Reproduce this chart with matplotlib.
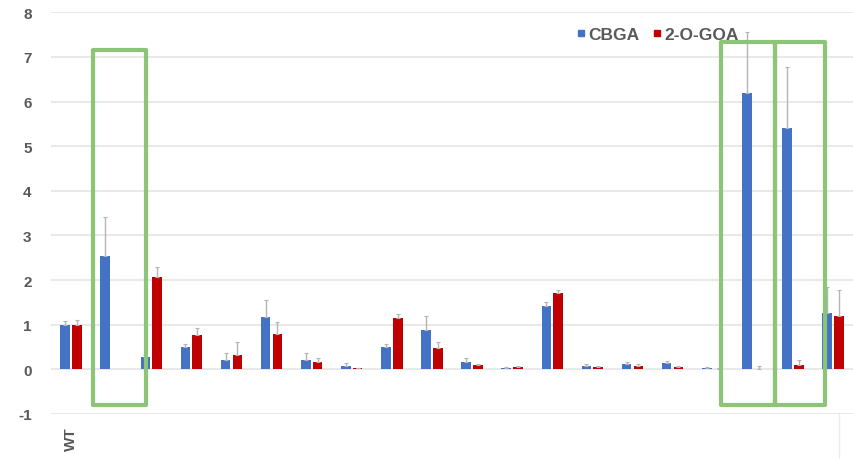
import numpy as np
import matplotlib.pyplot as plt
from matplotlib.patches import Rectangle
from matplotlib.lines import Line2D

plt.rcParams["axes.unicode_minus"] = False

# relative amounts per strain, WT = 1
strains = ["WT"] + [""] * 19
cbga = [1.00, 2.55, 0.28, 0.50, 0.20, 1.17, 0.22, 0.08, 0.50, 0.89,
        0.16, 0.04, 1.41, 0.08, 0.11, 0.14, 0.03, 6.20, 5.40, 1.27]
cbga_err = [0.08, 0.86, 0.05, 0.06, 0.16, 0.39, 0.14, 0.06, 0.06, 0.30,
            0.10, 0.02, 0.11, 0.03, 0.05, 0.04, 0.02, 1.35, 1.38, 0.58]
goa = [1.00, 0.00, 2.07, 0.78, 0.32, 0.79, 0.16, 0.02, 1.15, 0.47,
       0.10, 0.06, 1.70, 0.05, 0.08, 0.05, 0.01, 0.00, 0.09, 1.20]
goa_err = [0.10, 0.00, 0.23, 0.15, 0.30, 0.28, 0.10, 0.02, 0.09, 0.14,
           0.03, 0.02, 0.08, 0.02, 0.03, 0.02, 0.01, 0.07, 0.11, 0.57]

# strains to highlight: (x0, x1, y0, y1) in data units
highlights = [(0.54, 1.86, -0.80, 7.15),
              (16.21, 17.56, -0.80, 7.33),
              (17.56, 18.80, -0.80, 7.33)]

BLUE = "#4472c4"
RED = "#c00000"
GREY = "#595959"

fig = plt.figure(figsize=(8.54, 4.60), dpi=100)
ax = fig.add_axes([51 / 854, 1 - 415 / 460, 802 / 854, 401.7 / 460])

x = np.arange(len(strains))
w = 0.24
off = 0.147
err_kw = dict(ecolor="#b5b5b5", elinewidth=1.0, capsize=1.5, capthick=0.8)
cbga_err = np.array(cbga_err)
goa_err = np.array(goa_err)
ax.bar(x - off, cbga, w, color=BLUE, zorder=3)
ax.bar(x + off, goa, w, color=RED, zorder=3)
# upper error bars only, skipped where there is no spread
for xs, vals, errs in [(x - off, cbga, cbga_err), (x + off, goa, goa_err)]:
    m = errs > 0
    ax.errorbar(xs[m], np.array(vals)[m], yerr=[np.zeros(m.sum()), errs[m]],
                fmt="none", zorder=4, **err_kw)

ax.set_xlim(-0.5, len(x) - 0.5)
ax.set_ylim(-1, 8)
ax.set_yticks(range(-1, 9))
ax.yaxis.grid(True, color="#e9e9e9", linewidth=1.5, zorder=0)
ax.set_axisbelow(True)
for s in ax.spines.values():
    s.set_visible(False)
ax.tick_params(axis="both", length=0, colors=GREY)
ax.tick_params(axis="y", pad=14)
for lab in ax.get_yticklabels():
    lab.set_fontweight("bold")
    lab.set_fontsize(11)
    lab.set_fontfamily("Liberation Sans")

ax.set_xticks(x)
ax.set_xticklabels(strains, rotation=90, fontsize=11, fontweight="bold",
                   color=GREY, family="Liberation Sans", va="top")
ax.tick_params(axis="x", pad=9)

handles = [Line2D([], [], marker="s", ls="", color=BLUE, markersize=5),
           Line2D([], [], marker="s", ls="", color=RED, markersize=5)]
leg = ax.legend(handles, ["CBGA", "2-O-GOA"], loc="center left",
                bbox_to_anchor=(568 / 854, 1 - 35 / 460),
                bbox_transform=fig.transFigure, ncol=2, frameon=False,
                handlelength=0.5, handletextpad=0.15, columnspacing=0.8,
                borderpad=0, prop=dict(family="Liberation Sans",
                                       weight="bold", size=12.5))
for t in leg.get_texts():
    t.set_color(GREY)

for x0, x1, y0, y1 in highlights:
    ax.add_patch(Rectangle((x0, y0), x1 - x0, y1 - y0, fill=False,
                           edgecolor="#8cc478", linewidth=3,
                           joinstyle="round", clip_on=False, zorder=5))

# category axis frame edge
fig.add_artist(Line2D([839 / 854] * 2, [0, 45 / 460],
                      transform=fig.transFigure, color="#ececec", lw=1))

fig.savefig("out.png", dpi=100)
